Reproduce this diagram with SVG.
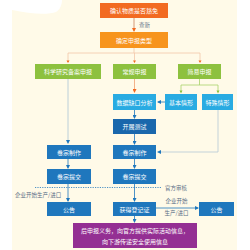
<svg xmlns="http://www.w3.org/2000/svg" width="250" height="250" viewBox="0 0 250 250">
<defs>
<style>
.t{font-family:"Noto Sans CJK SC","Noto Sans",sans-serif;font-size:6px;fill:#fff;text-anchor:middle;dominant-baseline:central}
.l{font-family:"Noto Sans CJK SC","Noto Sans",sans-serif;font-size:5.5px;fill:#5a6e86;dominant-baseline:central}
.or{fill:#f26a21}.or2{fill:#f7941d}.gr{fill:#8dc13f}.lb{fill:#29abe2}.db{fill:#1a67ac}.mb{fill:#1f77bd}.pu{fill:#942f93}
.c{fill:none;stroke-width:0.8}
</style>
<marker id="ao" markerWidth="4" markerHeight="4" refX="3" refY="2" orient="auto" markerUnits="userSpaceOnUse"><path d="M0,0L4,2L0,4z" fill="#f26a21"/></marker>
<marker id="ag" markerWidth="4" markerHeight="4" refX="3" refY="2" orient="auto" markerUnits="userSpaceOnUse"><path d="M0,0L4,2L0,4z" fill="#8dc13f"/></marker>
<marker id="ab" markerWidth="4" markerHeight="4" refX="3" refY="2" orient="auto" markerUnits="userSpaceOnUse"><path d="M0,0L4,2L0,4z" fill="#1f77bd"/></marker>
</defs>
<rect x="0" y="0" width="250" height="250" fill="#fff"/>
<rect x="12" y="0" width="225" height="250" fill="#fffae8"/>
<path d="M12,0H62C62,4 60,10 56,12C48,15 30,14 12,10Z" fill="#fff"/>
<g id="connectors">
<path class="c" d="M134,18V31" stroke="#c9805a" marker-end="url(#ao)"/>
<path class="c" d="M134,48V53M68,53H200M68,53V62M134.5,53V62M200,53V62" stroke="#f2c6a8"/>
<path d="M66.5,60.5h3l-1.5,2.5z M133,60.5h3l-1.5,2.5z M198.5,60.5h3l-1.5,2.5z" fill="#f26a21"/>
<path class="c" d="M134.5,79V92" stroke="#f0a070" marker-end="url(#ao)"/>
<path class="c" d="M68,79V143" stroke="#a9c4d6" marker-end="url(#ab)"/>
<path class="c" d="M199.5,79V85M181,85H218M181,85V92M218,85V92" stroke="#a8d26a" />
<path d="M179.5,90.5h3l-1.5,3z M216.5,90.5h3l-1.5,3z" fill="#8dc13f"/>
<path class="c" d="M165,102H158" stroke="#1f77bd" marker-end="url(#ab)"/>
<path class="c" d="M134.5,110V118" stroke="#1f77bd" marker-end="url(#ab)"/>
<path class="c" d="M134.5,134V144" stroke="#1f77bd" marker-end="url(#ab)"/>
<path class="c" d="M218,110V152H158" stroke="#b4c8d6" marker-end="url(#ab)"/>
<path class="c" d="M68,159V168" stroke="#1f77bd" marker-end="url(#ab)"/>
<path class="c" d="M134.5,159V168" stroke="#1f77bd" marker-end="url(#ab)"/>
<path class="c" d="M68,184V201" stroke="#1f77bd" marker-end="url(#ab)"/>
<path class="c" d="M134.5,184V201" stroke="#1f77bd" marker-end="url(#ab)"/>
<path class="c" d="M35,187.5H162" stroke="#1f77bd" stroke-dasharray="1.2,1.2"/>
<path class="c" d="M156,208H198" stroke="#1f77bd" marker-end="url(#ab)"/>
<path class="c" d="M134.5,216V222" stroke="#1f77bd" marker-end="url(#ab)"/>
</g>
<text class="l" x="139" y="25">查新</text>
<text class="l" x="165" y="187.5">官方审核</text>
<text class="l" x="15" y="194.5">企业开始生产/进口</text>
<text class="l" x="176.5" y="201" text-anchor="middle">企业开始</text>
<text class="l" x="176.5" y="213" text-anchor="middle">生产/进口</text>
<g id="n1"><rect class="or" x="100" y="3" width="68" height="15"/><text class="t" x="134" y="10.5">确认物质是否豁免</text></g>
<g id="n2"><rect class="or2" x="100" y="32" width="68" height="16"/><text class="t" x="134" y="40">确定申报类型</text></g>
<g id="n3"><rect class="gr" x="35" y="64" width="66" height="15"/><text class="t" x="68" y="71.5">科学研究备案申报</text></g>
<g id="n4"><rect class="gr" x="113" y="64" width="43" height="15"/><text class="t" x="134.5" y="71.5">常规申报</text></g>
<g id="n5"><rect class="gr" x="178" y="64" width="43" height="15"/><text class="t" x="199.5" y="71.5">简易申报</text></g>
<g id="n6"><rect class="lb" x="113" y="94" width="43" height="16"/><text class="t" x="134.5" y="102">数据缺口分析</text></g>
<g id="n7"><rect class="lb" x="165" y="94" width="32" height="16"/><text class="t" x="181" y="102">基本情形</text></g>
<g id="n8"><rect class="lb" x="202" y="94" width="31" height="16"/><text class="t" x="217.5" y="102">特殊情形</text></g>
<g id="n9"><rect class="db" x="113" y="119" width="43" height="15"/><text class="t" x="134.5" y="126.5">开展测试</text></g>
<g id="n10"><rect class="mb" x="47" y="145" width="44" height="14"/><text class="t" x="69" y="152">卷宗制作</text></g>
<g id="n11"><rect class="mb" x="113" y="145" width="43" height="14"/><text class="t" x="134.5" y="152">卷宗制作</text></g>
<g id="n12"><rect class="mb" x="47" y="169" width="44" height="15"/><text class="t" x="69" y="176.5">卷宗提交</text></g>
<g id="n13"><rect class="mb" x="113" y="169" width="43" height="15"/><text class="t" x="134.5" y="176.5">卷宗提交</text></g>
<g id="n14"><rect class="mb" x="47" y="202" width="44" height="14"/><text class="t" x="69" y="209">公告</text></g>
<g id="n15"><rect class="mb" x="113" y="202" width="43" height="14"/><text class="t" x="134.5" y="209">获得登记证</text></g>
<g id="n16"><rect class="mb" x="199" y="202" width="35" height="14"/><text class="t" x="216.5" y="209">公告</text></g>
<g id="n17"><rect class="pu" x="73" y="223" width="124" height="25"/><text class="t" x="135" y="230">后申报义务，向官方提供实际活动信息，</text><text class="t" x="135" y="241">向下游传递安全使用信息</text></g>
</svg>
